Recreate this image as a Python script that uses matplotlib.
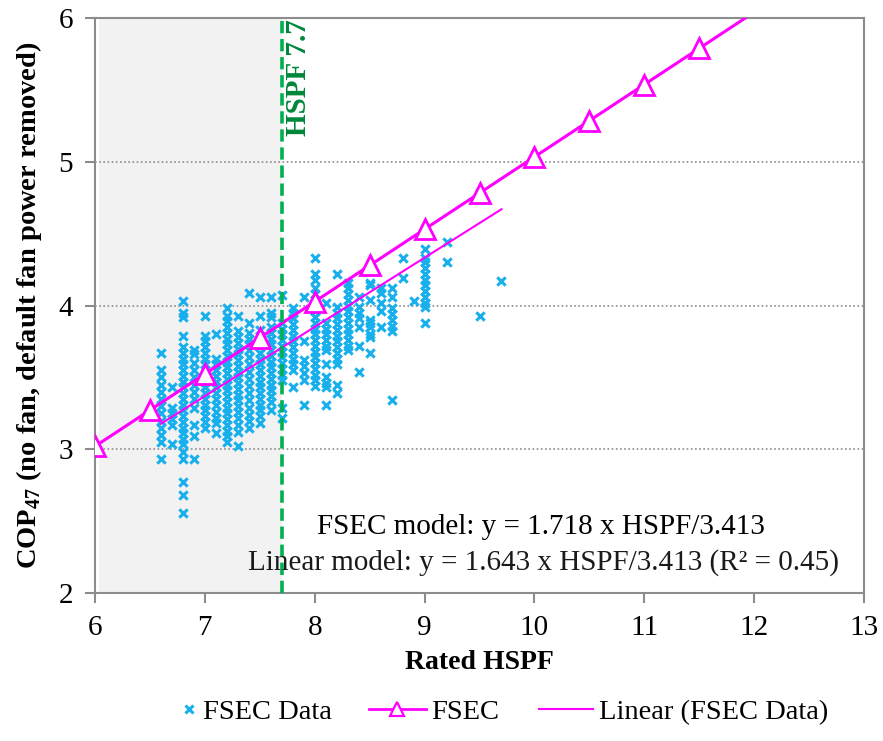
import numpy as np
import matplotlib
matplotlib.use("Agg")
import matplotlib.pyplot as plt
from matplotlib.lines import Line2D

plt.rcParams["font.family"] = ["Liberation Serif", "DejaVu Serif"]
plt.rcParams["mathtext.fontset"] = "custom"
plt.rcParams["mathtext.rm"] = "Liberation Serif:bold"
plt.rcParams["mathtext.bf"] = "Liberation Serif:bold"

data_cols = {
    6.6: [3.67, 3.55, 3.50, 3.45, 3.40, 3.35, 3.30, 3.25, 3.20, 3.15, 3.10, 3.05, 2.93],
    6.7: [3.43, 3.29, 3.25, 3.21, 3.17, 3.04],
    6.8: [4.03, 3.95, 3.92, 3.79, 3.71, 3.67, 3.63, 3.59, 3.55, 3.51, 3.47, 3.43, 3.39,
          3.35, 3.31, 3.27, 3.23, 3.19, 3.15, 3.11, 3.07, 3.04, 2.98, 2.93, 2.77, 2.68, 2.56],
    6.9: [3.69, 3.66, 3.60, 3.55, 3.50, 3.45, 3.40, 3.35, 3.29, 3.17, 3.09, 2.93],
    7.0: [3.93, 3.79, 3.75, 3.71, 3.67, 3.63, 3.59, 3.55, 3.51, 3.47, 3.43, 3.39, 3.35,
          3.31, 3.27, 3.23, 3.19, 3.15],
    7.1: [3.80, 3.63, 3.59, 3.55, 3.51, 3.47, 3.43, 3.39, 3.35, 3.31, 3.26, 3.22, 3.18, 3.11],
    7.2: [3.98, 3.93, 3.89, 3.85, 3.81, 3.77, 3.73, 3.69, 3.65, 3.61, 3.57, 3.53, 3.49,
          3.45, 3.41, 3.37, 3.33, 3.29, 3.25, 3.21, 3.17, 3.13, 3.09, 3.05],
    7.3: [3.93, 3.82, 3.78, 3.74, 3.70, 3.66, 3.62, 3.58, 3.54, 3.50, 3.46, 3.42, 3.38,
          3.34, 3.30, 3.26, 3.22, 3.17, 3.12, 3.02],
    7.4: [4.09, 3.88, 3.81, 3.77, 3.73, 3.69, 3.64, 3.59, 3.54, 3.49, 3.44, 3.39, 3.34,
          3.29, 3.24, 3.20, 3.15],
    7.5: [4.06, 3.93, 3.83, 3.79, 3.75, 3.71, 3.67, 3.63, 3.59, 3.55, 3.51, 3.47, 3.43,
          3.39, 3.35, 3.31, 3.27, 3.23, 3.18],
    7.6: [4.06, 3.95, 3.92, 3.85, 3.81, 3.77, 3.73, 3.69, 3.65, 3.61, 3.57, 3.53, 3.49,
          3.45, 3.41, 3.37, 3.33, 3.27],
    7.7: [4.07, 3.88, 3.84, 3.80, 3.76, 3.72, 3.68, 3.64, 3.60, 3.56, 3.52, 3.48, 3.29, 3.22],
    7.8: [3.98, 3.95, 3.91, 3.87, 3.83, 3.79, 3.75, 3.71, 3.67, 3.63, 3.59, 3.55, 3.43],
    7.9: [4.06, 3.75, 3.62, 3.58, 3.53, 3.48, 3.31],
    8.0: [4.33, 4.22, 4.18, 4.12, 4.08, 4.04, 4.00, 3.96, 3.92, 3.88, 3.84, 3.80, 3.76,
          3.72, 3.68, 3.64, 3.60, 3.56, 3.52, 3.48, 3.44],
    8.1: [4.02, 3.88, 3.84, 3.80, 3.76, 3.72, 3.69, 3.59, 3.50, 3.46, 3.43, 3.31],
    8.2: [4.22, 3.99, 3.95, 3.91, 3.87, 3.83, 3.79, 3.75, 3.71, 3.67, 3.63, 3.59, 3.45, 3.39],
    8.3: [4.16, 4.12, 4.08, 4.04, 4.00, 3.96, 3.92, 3.88, 3.84, 3.80, 3.76, 3.72, 3.69],
    8.4: [4.06, 3.99, 3.95, 3.91, 3.85, 3.72, 3.54],
    8.5: [4.16, 4.14, 4.04, 3.90, 3.88, 3.85, 3.80, 3.78, 3.67],
    8.6: [4.12, 4.09, 4.02, 3.96, 3.85],
    8.7: [4.12, 4.06, 3.98, 3.94, 3.90, 3.86, 3.82, 3.34],
    8.8: [4.33, 4.19],
    8.9: [4.03],
    9.0: [4.39, 4.33, 4.30, 4.26, 4.22, 4.18, 4.14, 4.10, 4.06, 4.02, 3.99, 3.88],
    9.2: [4.44, 4.30],
    9.5: [3.93],
    9.7: [4.17],
}

fsec_hspf = [6.0, 6.5, 7.0, 7.5, 8.0, 8.5, 9.0, 9.5, 10.0, 10.5, 11.0, 11.5]
fsec_line_end = 12.0
fsec_slope = 1.718
lin_slope = 1.643
lin_range = [6.6, 9.7]
btu_per_wh = 3.413
hspf_min = 7.7

x_data = []
y_data = []
for h, vals in data_cols.items():
    x_data += [h] * len(vals)
    y_data += vals

fsec_cop = [fsec_slope * h / btu_per_wh for h in fsec_hspf]
fsec_line_x = fsec_hspf + [fsec_line_end]
fsec_line_y = [fsec_slope * h / btu_per_wh for h in fsec_line_x]
lin_cop = [lin_slope * h / btu_per_wh for h in lin_range]

fig = plt.figure(figsize=(8.83, 7.41), dpi=100)
ax = fig.add_axes([95 / 883, 1 - 593 / 741, (864 - 95) / 883, (593 - 18) / 741])

magenta = "#FF00FF"
blue = "#18B0EC"
green = "#00B050"

ax.axvspan(6.04, hspf_min, color="#F2F2F2", zorder=0, lw=0)
for yv in [3, 4, 5]:
    ax.axhline(yv, color="#8C8C8C", ls=(0, (1, 1.5)), lw=1.2, zorder=1)

ax.scatter(x_data, y_data, marker="x", s=36, linewidths=2.2, color=blue, zorder=3)
ax.plot(fsec_line_x, fsec_line_y, color=magenta, lw=2.2, zorder=4)
ax.plot(fsec_hspf, fsec_cop, ls="none", marker="^", ms=14,
        mfc="white", mec=magenta, mew=2, zorder=4)
ax.plot(lin_range, lin_cop, color=magenta, lw=1.5, zorder=4)

ax.axvline(hspf_min, color=green, lw=2.6, ls=(0, (3.4, 1.6)), zorder=5)
ax.text(hspf_min + 0.025, 5.99, "HSPF 7.7", rotation=90, ha="left", va="top",
        color="#00873A", fontsize=21, fontweight="bold", zorder=6)

ax.text(10.06, 2.46, "FSEC model: y = 1.718 x HSPF/3.413", ha="center", va="center",
        fontsize=21, color="black", zorder=6)
ax.text(10.08, 2.21, "Linear model: y = 1.643 x HSPF/3.413 (R\u00b2 = 0.45)", ha="center",
        va="center", fontsize=21, color="#1a1a1a", zorder=6)

ax.set_xlim(6, 13)
ax.set_ylim(2, 6)
ax.set_xticks(range(6, 14))
ax.set_yticks([2, 3, 4, 5, 6])
ax.tick_params(axis="both", labelsize=21, direction="out", length=7, width=1.5,
               color="#8C8C8C", pad=9)
for s in ax.spines.values():
    s.set_color("#8C8C8C")
    s.set_linewidth(1.5)

ax.set_xlabel("Rated HSPF", fontsize=20, fontweight="bold", labelpad=6)
ax.set_ylabel(r"COP$_\mathregular{47}$ (no fan, default fan power removed)", fontsize=20.5,
              fontweight="bold", labelpad=10)

# legend: one entry per box so each handle can have its own width
entries = [
    (Line2D([], [], ls="none", marker="x", color=blue, ms=6, mew=2.2), "FSEC Data", 175, 0.95, 0.05),
    (Line2D([], [], color=magenta, lw=2, marker="^", ms=10, mfc="white", mec=magenta, mew=1.6),
     "FSEC", 369, 2.0, 0.2),
    (Line2D([], [], color=magenta, lw=1.5), "Linear (FSEC Data)", 539, 1.9, 0.2),
]
for handle, label, left_px, hlen, hpad in entries:
    fig.legend([handle], [label], loc="center left", bbox_to_anchor=(left_px / 883, 0.039),
               frameon=False, fontsize=20.5, handlelength=hlen, handletextpad=hpad,
               borderpad=0, borderaxespad=0)

fig.savefig("out.png", dpi=100)
